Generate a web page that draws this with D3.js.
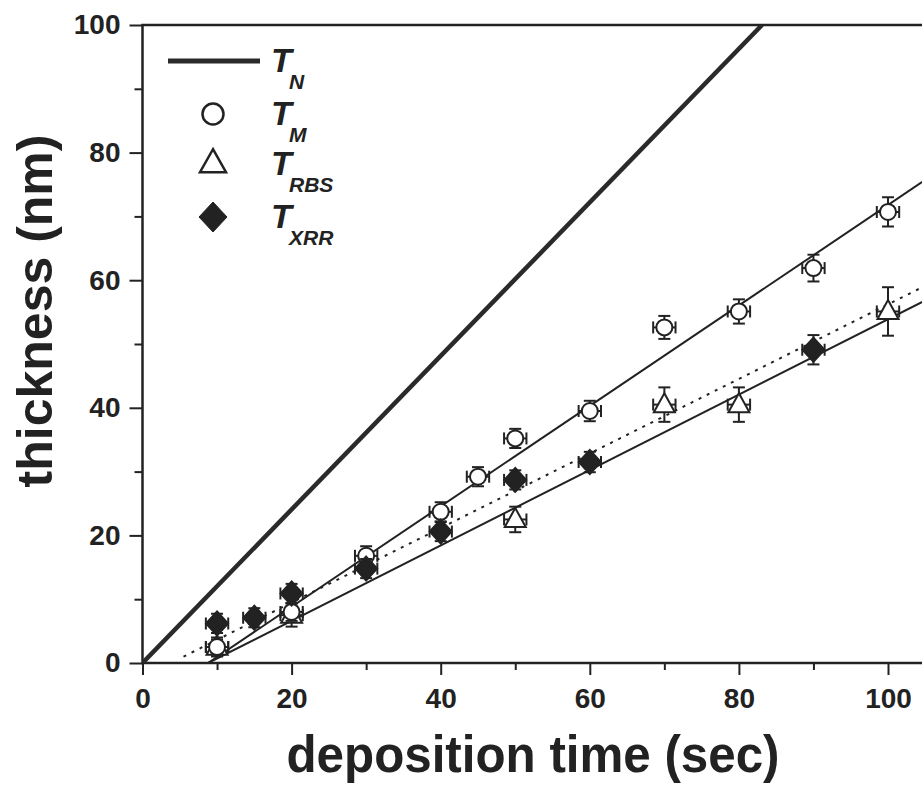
<!DOCTYPE html>
<html>
<head>
<meta charset="utf-8">
<script src="https://cdn.jsdelivr.net/npm/d3@7"></script>
<style>
  body { margin: 0; background: #fff; }
  text { font-family: "Liberation Sans", Arial, sans-serif; font-weight: bold; fill: #222; }
</style>
</head>
<body>
<div id="chart"></div>
<script>
// data
const timeM = [10, 20, 30, 40, 45, 50, 60, 70, 80, 90, 100];
const thickM = [2.5, 8.0, 16.8, 23.7, 29.2, 35.2, 39.5, 52.6, 55.1, 61.9, 70.7];
const errM = [1.2, 1.4, 1.5, 1.5, 1.5, 1.5, 1.6, 1.8, 1.9, 2.1, 2.3];

const timeRBS = [10, 20, 50, 70, 80, 100];
const thickRBS = [2.5, 7.5, 22.5, 40.5, 40.5, 55.1];
const errRBS = [1.5, 1.8, 2.0, 2.7, 2.7, 3.8];

const timeXRR = [10, 15, 20, 30, 40, 50, 60, 90];
const thickXRR = [6.2, 7.1, 10.9, 14.8, 20.6, 28.7, 31.5, 49.1];
const errXRR = [1.5, 1.5, 1.5, 1.5, 1.5, 1.5, 1.6, 2.3];

const timeErr = 1.5;

// fitted lines, end points [time, thickness]
const fitN = [[0, 0], [83.1, 100]];
const fitM = [[8.8, 0], [104.6, 75.4]];
const fitRBS = [[5.5, 1.0], [104.6, 58.9]];
const fitXRR = [[8.8, 0], [104.6, 56.6]];

const majorTicks = [0, 20, 40, 60, 80, 100];
const minorTicks = [10, 30, 50, 70, 90];

const W = 922, H = 785;
const ink = "#222";

const x = d3.scaleLinear().domain([0, 100]).range([142.5, 888]);
const y = d3.scaleLinear().domain([0, 100]).range([663, 25]);

const svg = d3.select("#chart").append("svg")
  .attr("width", W).attr("height", H);

svg.append("clipPath").attr("id", "plot")
  .append("rect")
  .attr("x", x(0)).attr("y", y(100))
  .attr("width", W - x(0)).attr("height", y(0) - y(100));

// AXES
const yMajor = d3.axisLeft(y).tickValues(majorTicks).tickSize(13).tickPadding(9);
const yMinor = d3.axisLeft(y).tickValues(minorTicks).tickSize(8).tickFormat("");
const xMajor = d3.axisBottom(x).tickValues(majorTicks).tickSize(12).tickPadding(13);
const xMinor = d3.axisBottom(x).tickValues(minorTicks).tickSize(7).tickFormat("");

function styleAxis(g) {
  g.select(".domain").remove();
  g.selectAll("line").attr("stroke", ink).attr("stroke-width", 2);
  g.selectAll("text").style("font-size", "28px").attr("fill", ink);
}

svg.append("g").attr("transform", `translate(${x(0)},0)`).call(yMajor).call(styleAxis);
svg.append("g").attr("transform", `translate(${x(0)},0)`).call(yMinor).call(styleAxis);
svg.append("g").attr("transform", `translate(0,${y(0)})`).call(xMajor).call(styleAxis);
svg.append("g").attr("transform", `translate(0,${y(0)})`).call(xMinor).call(styleAxis);

// frame: left, bottom, top
svg.append("path")
  .attr("d", `M${W},${y(100)}H${x(0)}V${y(0)}H${W}`)
  .attr("fill", "none").attr("stroke", ink).attr("stroke-width", 2.5);

// axis titles
svg.append("text")
  .attr("x", 533).attr("y", 772)
  .attr("text-anchor", "middle")
  .attr("textLength", 493).attr("lengthAdjust", "spacingAndGlyphs")
  .style("font-size", "52px")
  .text("deposition time (sec)");

svg.append("text")
  .attr("transform", "translate(52,311) rotate(-90)")
  .attr("text-anchor", "middle")
  .style("font-size", "50px")
  .text("thickness (nm)");

// LINES
const line = d3.line().x(d => x(d[0])).y(d => y(d[1]));
const plot = svg.append("g").attr("clip-path", "url(#plot)");

plot.append("path").attr("d", line(fitN))
  .attr("fill", "none").attr("stroke", "#2a2a2a").attr("stroke-width", 4.5);
plot.append("path").attr("d", line(fitM))
  .attr("fill", "none").attr("stroke", ink).attr("stroke-width", 2);
plot.append("path").attr("d", line(fitXRR))
  .attr("fill", "none").attr("stroke", ink).attr("stroke-width", 2);
plot.append("path").attr("d", line(fitRBS))
  .attr("fill", "none").attr("stroke", ink).attr("stroke-width", 2)
  .attr("stroke-dasharray", "3,6");

// MARKERS
const circlePath = r => `M${-r},0a${r},${r} 0 1,0 ${2 * r},0a${r},${r} 0 1,0 ${-2 * r},0Z`;
const trianglePath = (w, h) => `M0,${-h * 0.6}L${w / 2},${h * 0.4}L${-w / 2},${h * 0.4}Z`;
const diamondPath = (w, h) => `M0,${-h}L${w},0L0,${h}L${-w},0Z`;

function series(times, values, errs, shape, fill) {
  const pts = times.map((t, i) => ({ t: t, v: values[i], e: errs[i] }));
  const g = plot.append("g");
  const eb = g.selectAll(".eb").data(pts).enter().append("g")
    .attr("stroke", ink).attr("stroke-width", 2);
  // vertical error bars
  eb.append("line")
    .attr("x1", d => x(d.t)).attr("x2", d => x(d.t))
    .attr("y1", d => y(d.v - d.e)).attr("y2", d => y(d.v + d.e));
  eb.append("line")
    .attr("x1", d => x(d.t) - 6).attr("x2", d => x(d.t) + 6)
    .attr("y1", d => y(d.v + d.e)).attr("y2", d => y(d.v + d.e));
  eb.append("line")
    .attr("x1", d => x(d.t) - 6).attr("x2", d => x(d.t) + 6)
    .attr("y1", d => y(d.v - d.e)).attr("y2", d => y(d.v - d.e));
  // horizontal error bars
  eb.append("line")
    .attr("x1", d => x(d.t - timeErr)).attr("x2", d => x(d.t + timeErr))
    .attr("y1", d => y(d.v)).attr("y2", d => y(d.v));
  eb.append("line")
    .attr("x1", d => x(d.t - timeErr)).attr("x2", d => x(d.t - timeErr))
    .attr("y1", d => y(d.v) - 6).attr("y2", d => y(d.v) + 6);
  eb.append("line")
    .attr("x1", d => x(d.t + timeErr)).attr("x2", d => x(d.t + timeErr))
    .attr("y1", d => y(d.v) - 6).attr("y2", d => y(d.v) + 6);

  g.selectAll(".mk").data(pts).enter().append("path")
    .attr("transform", d => `translate(${x(d.t)},${y(d.v)})`)
    .attr("d", shape)
    .attr("fill", fill).attr("stroke", ink).attr("stroke-width", 2);
}

// RBS drawn first: its low points sit under the circles
series(timeRBS, thickRBS, errRBS, trianglePath(21, 19), "#fff");
series(timeM, thickM, errM, circlePath(8), "#fff");
series(timeXRR, thickXRR, errXRR, diamondPath(11, 12), ink);

// LEGEND
const legend = svg.append("g");
const rows = [
  { c: 61, sub: "N" },
  { c: 114, sub: "M" },
  { c: 164, sub: "RBS" },
  { c: 217, sub: "XRR" }
];

legend.append("line")
  .attr("x1", 168).attr("x2", 260).attr("y1", 61).attr("y2", 61)
  .attr("stroke", "#2a2a2a").attr("stroke-width", 5);
legend.append("path").attr("transform", "translate(213,114)")
  .attr("d", circlePath(10.5)).attr("fill", "#fff").attr("stroke", ink).attr("stroke-width", 2.5);
legend.append("path").attr("transform", "translate(213,163)")
  .attr("d", trianglePath(26, 23)).attr("fill", "#fff").attr("stroke", ink).attr("stroke-width", 2.5);
legend.append("path").attr("transform", "translate(213,217)")
  .attr("d", diamondPath(14, 15)).attr("fill", ink).attr("stroke", ink).attr("stroke-width", 1);

const lt = legend.selectAll(".lt").data(rows).enter().append("g");
lt.append("text")
  .attr("x", 271).attr("y", d => d.c + 11)
  .style("font-size", "34px").style("font-style", "italic")
  .text("T");
lt.append("text")
  .attr("x", 289).attr("y", d => d.c + 28)
  .style("font-size", "21px").style("font-style", "italic")
  .text(d => d.sub);
</script>
</body>
</html>
